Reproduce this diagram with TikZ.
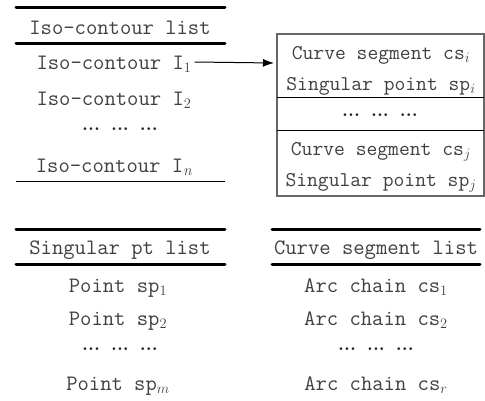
\documentclass[tikz,border=0pt]{standalone}
\usepackage{fontspec}
\usetikzlibrary{arrows.meta}
\newcommand{\dotgroups}{...\hspace{11pt}...\hspace{11pt}...}
\tikzset{
  txt/.style={font=\ttfamily\fontsize{22}{26}\selectfont, text=black!75, inner sep=0pt, anchor=base},
  boxtxt/.style={txt, font=\ttfamily\fontsize{21}{24}\selectfont},
  dotrow/.style={font=\bfseries\fontsize{19}{20}\selectfont, text=black!85, inner sep=0pt, anchor=base},
  thick rule/.style={line width=3pt, line cap=round},
  thin rule/.style={line width=1pt},
  frame/.style={draw=black!60, line width=1.2pt},
}
\begin{document}
\begin{tikzpicture}[x=1pt,y=-1pt]
\useasboundingbox (0,0) rectangle (485,400);
\fill[white] (0,0) rectangle (485,400);

% iso-contour list
\draw[thick rule] (16,7) -- (225,7);
\node[txt] (ihead) at (120,34) {Iso-contour list};
\draw[thick rule] (16,43) -- (225,43);
\node[txt] (i1) at (114,69) {Iso-contour I$_1$};
\node[txt] (i2) at (114,105) {Iso-contour I$_2$};
\node[dotrow] (idots) at (120,130) {\dotgroups};
\node[txt] (in) at (114,172) {Iso-contour I$_{\mathit{n}}$};
\draw[thin rule] (16,181) -- (225,181);

% contour record box
\draw[frame] (277,34) rectangle (484,196);
\draw[line width=1pt] (277,97) -- (484,97);
\draw[line width=1pt] (277,130) -- (484,130);
\node[boxtxt] (ci) at (381,59) {Curve segment cs$_i$};
\node[boxtxt] (si) at (381,90) {Singular point sp$_i$};
\node[dotrow] (cdots) at (380,116) {\dotgroups};
\node[boxtxt] (cj) at (381,155) {Curve segment cs$_j$};
\node[boxtxt] (sj) at (381,186) {Singular point sp$_j$};
\coordinate (boxin) at (274,63);
\draw[-{Latex[length=11pt,width=8pt]}, line width=1pt] (i1.east |- boxin) ++(3,-1) -- (boxin);

% singular point list
\draw[thick rule] (16,229) -- (225,229);
\node[txt] (shead) at (120,254) {Singular pt list};
\draw[thick rule] (16,264) -- (225,264);
\node[txt] (p1) at (118,292) {Point sp$_1$};
\node[txt] (p2) at (118,325) {Point sp$_2$};
\node[dotrow] (pdots) at (120,350) {\dotgroups};
\node[txt] (pm) at (118,390) {Point sp$_m$};

% curve segment list
\draw[thick rule] (272,229) -- (480,229);
\node[txt] (chead) at (376,254) {Curve segment list};
\draw[thick rule] (272,264) -- (480,264);
\node[txt] (a1n) at (376,292) {Arc chain cs$_1$};
\node[txt] (a2n) at (376,325) {Arc chain cs$_2$};
\node[dotrow] (adots) at (376,350) {\dotgroups};
\node[txt] (arn) at (376,390) {Arc chain cs$_r$};
\end{tikzpicture}
\end{document}
